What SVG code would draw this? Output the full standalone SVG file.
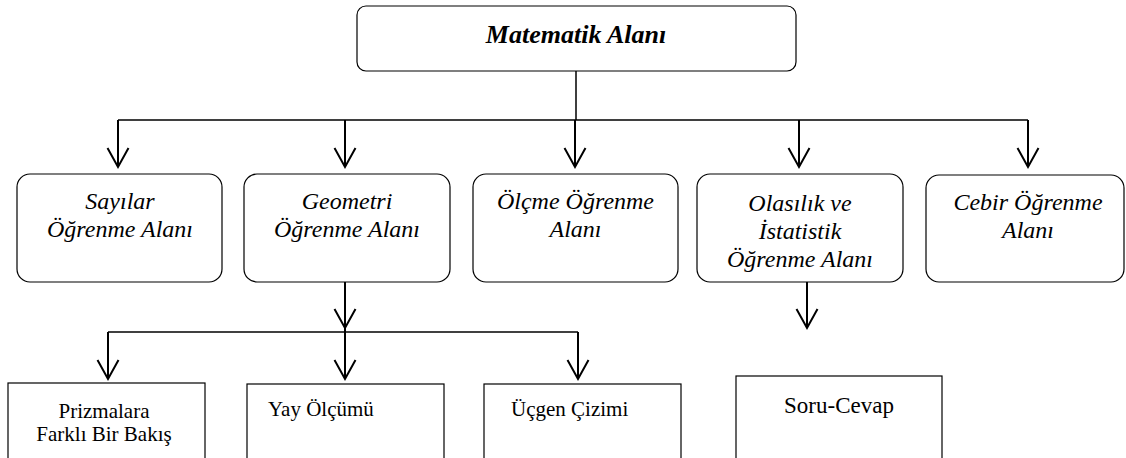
<svg xmlns="http://www.w3.org/2000/svg" width="1126" height="458" viewBox="0 0 1126 458">
<defs>
<style>
.box{fill:#fff;stroke:#000;stroke-width:1.2}
.sq{fill:#fff;stroke:#000;stroke-width:1.2}
.ln{fill:none;stroke:#000;stroke-width:1.5}
.ar{fill:none;stroke:#000;stroke-width:2;marker-end:url(#v)}
text{font-family:"Liberation Serif","Times New Roman","DejaVu Serif",serif}
.ti{font-style:italic;font-weight:bold;font-size:26px;text-anchor:middle}
.it{font-style:italic;font-size:24px;text-anchor:middle}
.rg{font-size:21px}
</style>
<marker id="v" markerUnits="userSpaceOnUse" viewBox="-21 -12 23 24" refX="0" refY="0" markerWidth="23" markerHeight="24" orient="auto" overflow="visible">
<path d="M-19,-10.5 L0,0 L-19,10.5" fill="none" stroke="#000" stroke-width="2"/>
</marker>
</defs>
<rect width="1126" height="458" fill="#fff"/>
<g id="connectors">
<path class="ln" d="M576,71 V120 M118,120 H1028"/>
<path class="ar" d="M118,120 V167"/>
<path class="ar" d="M345,120 V167"/>
<path class="ar" d="M575,120 V167"/>
<path class="ar" d="M799,120 V167"/>
<path class="ar" d="M1028,120 V167"/>
<path class="ar" d="M345,282 V328"/>
<path class="ln" d="M108,332 H578"/>
<path class="ar" d="M108,332 V379"/>
<path class="ar" d="M345,328 V379"/>
<path class="ar" d="M578,332 V379"/>
<path class="ar" d="M807,282 V328"/>
</g>
<g id="n-matematik">
<rect class="box" x="357" y="6" width="439" height="65" rx="9"/>
<text class="ti" x="576" y="43">Matematik Alanı</text>
</g>
<g id="n-sayilar">
<rect class="box" x="17" y="174" width="205" height="108" rx="13"/>
<text class="it" x="120" y="209">Sayılar</text>
<text class="it" x="120" y="237">Öğrenme Alanı</text>
</g>
<g id="n-geometri">
<rect class="box" x="244" y="174" width="206" height="108" rx="13"/>
<text class="it" x="347" y="209">Geometri</text>
<text class="it" x="347" y="237">Öğrenme Alanı</text>
</g>
<g id="n-olcme">
<rect class="box" x="473" y="174" width="205" height="108" rx="13"/>
<text class="it" x="575.5" y="209">Ölçme Öğrenme</text>
<text class="it" x="575.5" y="237">Alanı</text>
</g>
<g id="n-olasilik">
<rect class="box" x="697" y="174" width="206" height="108" rx="13"/>
<text class="it" x="800" y="211">Olasılık ve</text>
<text class="it" x="800" y="239">İstatistik</text>
<text class="it" x="800" y="267">Öğrenme Alanı</text>
</g>
<g id="n-cebir">
<rect class="box" x="926" y="175" width="198" height="107" rx="13"/>
<text class="it" x="1028" y="210">Cebir Öğrenme</text>
<text class="it" x="1028" y="238">Alanı</text>
</g>
<g id="n-prizmalar">
<rect class="sq" x="8" y="383" width="197" height="100"/>
<text class="rg" x="104" y="418" text-anchor="middle">Prizmalara</text>
<text class="rg" x="104" y="441" text-anchor="middle">Farklı Bir Bakış</text>
</g>
<g id="n-yay">
<rect class="sq" x="247" y="384" width="197" height="100"/>
<text class="rg" x="268" y="416">Yay Ölçümü</text>
</g>
<g id="n-ucgen">
<rect class="sq" x="484" y="384" width="197" height="100"/>
<text class="rg" x="511" y="416">Üçgen Çizimi</text>
</g>
<g id="n-soru">
<rect class="sq" x="736" y="376" width="206" height="110"/>
<text class="rg" x="839" y="413" text-anchor="middle" style="font-size:23px">Soru-Cevap</text>
</g>
</svg>
